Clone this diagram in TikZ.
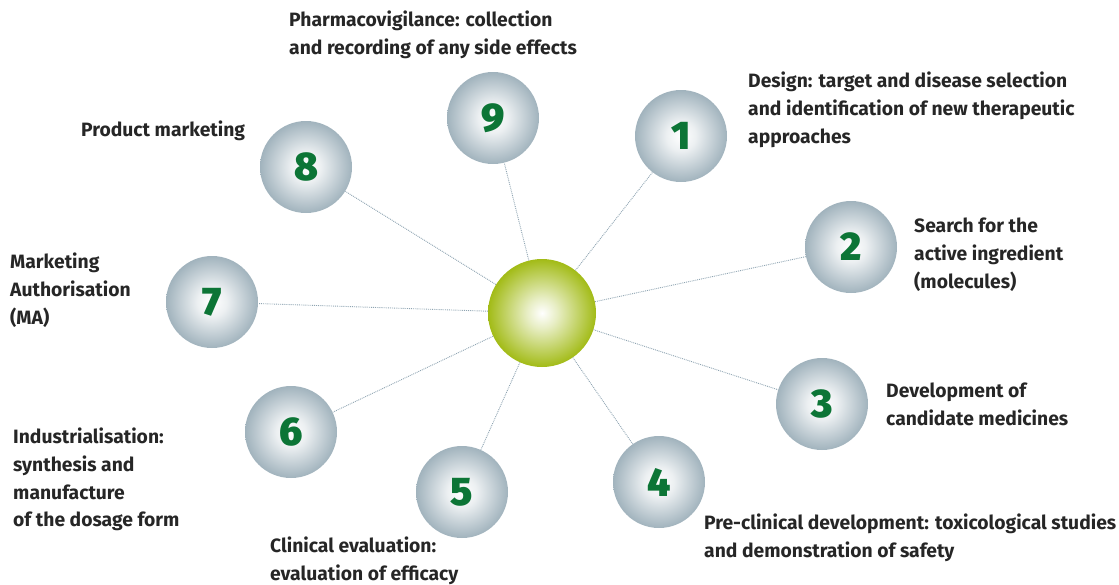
\documentclass[tikz,border=0pt]{standalone}
\usepackage{fontspec}
\setmainfont{Fira Sans}
\newfontfamily\numfont{Fira Sans Black}
\usepackage{xcolor}
\usepackage{tikz}
\usetikzlibrary{positioning}

\definecolor{stepgreen}{HTML}{0C7536}
\definecolor{ballrim}{HTML}{A1B3BD}
\definecolor{hubrim}{HTML}{A2BB16}
\definecolor{linkgray}{HTML}{8FA4B2}
\definecolor{labelgray}{HTML}{262626}

\pgfdeclareradialshading{graysphere}{\pgfpoint{0bp}{0bp}}{%
  color(0bp)=(white); color(8bp)=(white!80!ballrim); color(25bp)=(ballrim); color(50bp)=(ballrim)}
\pgfdeclareradialshading{greensphere}{\pgfpoint{0bp}{0bp}}{%
  color(0bp)=(white); color(7bp)=(white!75!hubrim); color(25bp)=(hubrim); color(50bp)=(hubrim)}

\begin{document}
\begin{tikzpicture}[
    x=1pt, y=-1pt,
    stage/.style={circle, minimum size=92pt, inner sep=0pt, shading=graysphere,
      text=stepgreen, font=\numfont\fontsize{40}{40}\selectfont},
    hub/.style={circle, minimum size=108pt, inner sep=0pt, shading=greensphere},
    caption/.style={anchor=north west, inner sep=0pt, align=left, text=labelgray,
      font=\bfseries\fontsize{19.3}{27.7}\selectfont},
    link/.style={draw=linkgray, densely dotted, line width=0.9pt}
]
    \useasboundingbox (0,0) rectangle (1119,584);

    % Nodes
    \node[hub] (hub) at (542,313) {};
    \node[stage] (s1) at (681,136) {1};
    \node[stage] (s2) at (851,247) {2};
    \node[stage] (s3) at (822,404) {3};
    \node[stage] (s4) at (659,482) {4};
    \node[stage] (s5) at (462,492) {5};
    \node[stage] (s6) at (291,432) {6};
    \node[stage] (s7) at (212,302) {7};
    \node[stage] (s8) at (306,167) {8};
    \node[stage] (s9) at (493,118) {9};

    % Captions
    \node[caption] (lab9) at (289,11) {Pharmacovigilance: collection\\and recording of any side effects};
    \node[caption] (lab1) at (748,72) {Design: target and disease selection\\and identification of new therapeutic\\approaches};
    \node[caption] (lab8) at (81,121) {Product marketing};
    \node[caption] (lab2) at (914,218) {Search for the\\active ingredient\\(molecules)};
    \node[caption] (lab7) at (10,253) {Marketing\\Authorisation\\(MA)};
    \node[caption] (lab3) at (886,383) {Development of\\candidate medicines};
    \node[caption] (lab6) at (13,428) {Industrialisation:\\synthesis and\\manufacture\\of the dosage form};
    \node[caption] (lab4) at (704,514) {Pre-clinical development: toxicological studies\\and demonstration of safety};
    \node[caption] (lab5) at (270,537) {Clinical evaluation:\\evaluation of efficacy};

    % Connections
    \foreach \s in {1,...,9}
        \draw[link] (hub) -- (s\s);

\end{tikzpicture}
\end{document}
